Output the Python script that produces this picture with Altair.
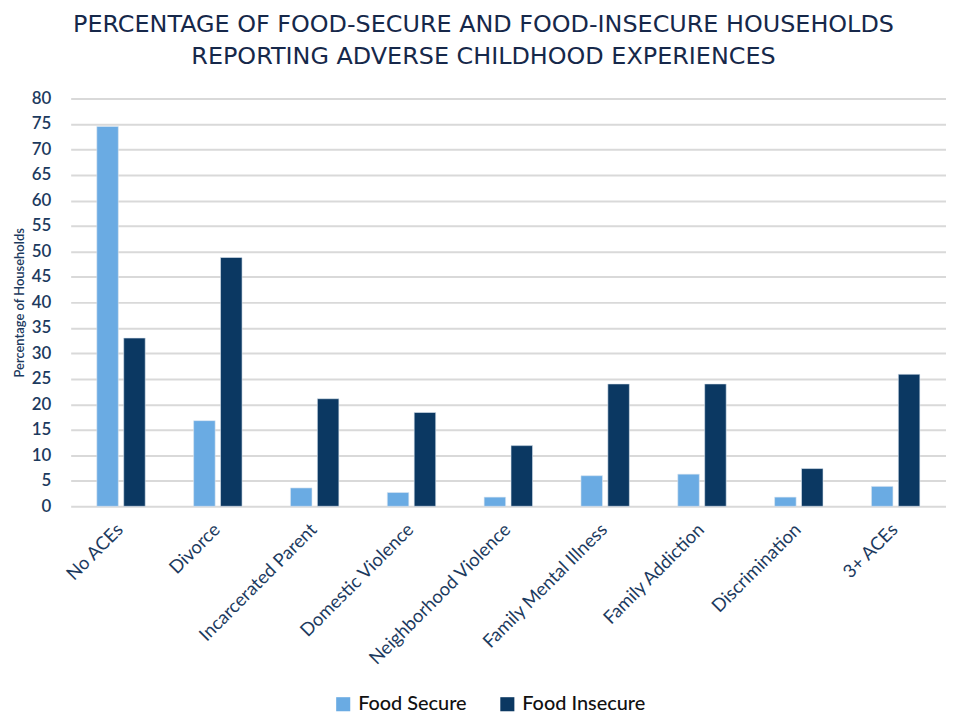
import altair as alt
import pandas as pd

categories = ["No ACEs", "Divorce", "Incarcerated Parent", "Domestic Violence",
              "Neighborhood Violence", "Family Mental Illness", "Family Addiction",
              "Discrimination", "3+ ACEs"]
food_secure = [74.5, 16.8, 3.6, 2.7, 1.8, 6.0, 6.3, 1.8, 3.9]
food_insecure = [33.0, 48.8, 21.1, 18.4, 11.9, 24.0, 24.0, 7.4, 25.9]
series = ["Food Secure", "Food Insecure"]
colors = ["#6aabe3", "#0b3862"]
y_ticks = list(range(0, 85, 5))

rows = []
for c, a, b in zip(categories, food_secure, food_insecure):
    rows.append({"Category": c, "Group": series[0], "Value": a})
    rows.append({"Category": c, "Group": series[1], "Value": b})
df = pd.DataFrame(rows)

text_color = "#1c3a5e"
font = "Lato"

chart = alt.Chart(df).mark_bar(stroke="#dbe6f0", strokeWidth=0.6).encode(
    x=alt.X("Category:N", sort=categories, title=None,
            scale=alt.Scale(paddingInner=0.5, paddingOuter=0.27),
            axis=alt.Axis(labelAngle=-45, labelAlign="right", labelBaseline="middle",
                          labelFontSize=18.5, labelColor=text_color, labelFont=font,
                          domain=False, ticks=False, labelPadding=20, labelOffset=-1,
                          labelLimit=400, grid=False)),
    xOffset=alt.XOffset("Group:N", sort=series,
                        scale=alt.Scale(paddingInner=0.2)),
    y=alt.Y("Value:Q", title="Percentage of Households",
            scale=alt.Scale(domain=[0, 80], nice=False),
            axis=alt.Axis(values=y_ticks, labelFontSize=17, labelColor=text_color,
                          labelFont=font, labelFontWeight=600, domain=False, ticks=False,
                          labelPadding=20, gridColor="#d9d9d9", gridWidth=2,
                          titleFontSize=13, titleColor=text_color, titleFont=font,
                          titleFontWeight=600, titlePadding=5)),
    color=alt.Color("Group:N", sort=series,
                    scale=alt.Scale(domain=series, range=colors),
                    legend=alt.Legend(title=None, orient="none", direction="horizontal",
                                      legendX=264, legendY=599, labelFontSize=20,
                                      labelColor="#111111", labelFont=font,
                                      labelFontWeight=500,
                                      symbolType="square", symbolSize=200,
                                      symbolStrokeWidth=0, columnPadding=30,
                                      labelOffset=5)),
).properties(
    width=880,
    height=410,
    autosize=alt.AutoSizeParams(type="none"),
    padding={"left": 63, "top": 89, "right": 0, "bottom": 230},
    title=alt.TitleParams(
        ["PERCENTAGE OF FOOD-SECURE AND FOOD-INSECURE HOUSEHOLDS",
         "REPORTING ADVERSE CHILDHOOD EXPERIENCES"],
        fontSize=24, font="DejaVu Sans", fontWeight="normal", color="#16284a",
        anchor="middle", dx=-25, offset=21, lineHeight=32,
    ),
).configure_view(stroke=None)

chart.save("out.html", embed_options={"renderer": "svg", "actions": False})
